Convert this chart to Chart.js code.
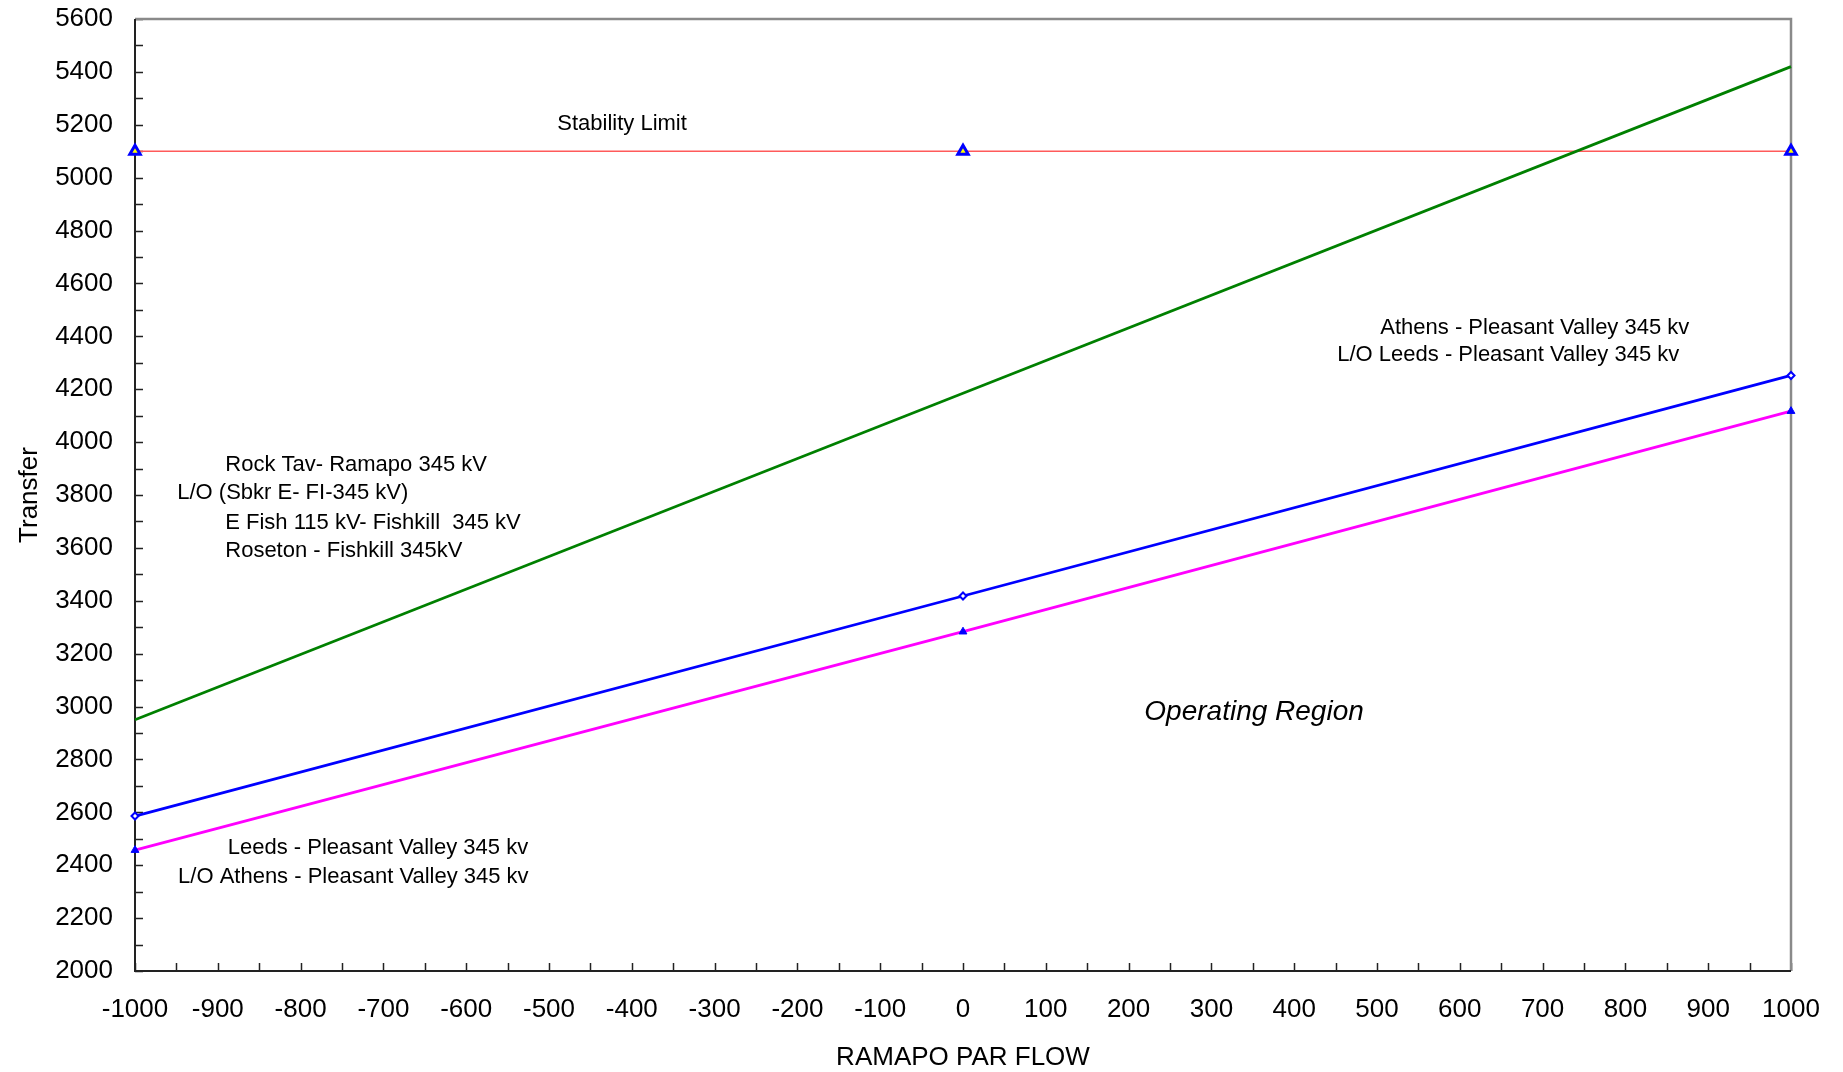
<!DOCTYPE html>
<html><head><meta charset="utf-8">
<script src="https://cdn.jsdelivr.net/npm/chart.js@4/dist/chart.umd.min.js"></script>
<style>html,body{margin:0;padding:0;background:#fff;}</style>
</head><body>
<canvas id="c" width="1843" height="1072"></canvas>
<script>
// ---- data ----
const flow = [-1000, 0, 1000];
const stabilityLimit = [5100, 5100, 5100];
const rockTavLimit = [2950, 4185, 5420];
const athensLimit = [2586, 3418, 4252];
const leedsLimit = [2457, 3283, 4117];
const xTickValues = [-1000,-900,-800,-700,-600,-500,-400,-300,-200,-100,0,100,200,300,400,500,600,700,800,900,1000];
const yTickValues = [2000,2200,2400,2600,2800,3000,3200,3400,3600,3800,4000,4200,4400,4600,4800,5000,5200,5400,5600];
const xTitle = 'RAMAPO PAR FLOW';
const yTitle = 'Transfer';
const noteTexts = [
  'Stability Limit',
  'Rock Tav- Ramapo 345 kV',
  'L/O (Sbkr E- FI-345 kV)',
  'E Fish 115 kV- Fishkill  345 kV',
  'Roseton - Fishkill 345kV',
  'Athens - Pleasant Valley 345 kv',
  'L/O Leeds - Pleasant Valley 345 kv',
  'Leeds - Pleasant Valley 345 kv',
  'L/O Athens - Pleasant Valley 345 kv',
  'Operating Region'
];
// anchor of each note (left edge, vertical middle) in axis units
const noteAnchors = [
  [-490, 5205], [-891, 3913], [-949, 3807], [-891, 3696], [-891, 3590],
  [504, 4431], [452, 4329], [-888, 2464], [-948, 2357], [219, 2978]
];

const pts = ys => flow.map((x, i) => ({x: x, y: ys[i]}));
const FONT = '"Liberation Sans", Arial, sans-serif';

const framePlugin = {
  id: 'frame',
  beforeDatasetsDraw(chart) {
    const {ctx, chartArea: a, scales: {x, y}} = chart;
    ctx.save();
    ctx.strokeStyle = '#222';
    ctx.lineWidth = 1.5;
    const tl = 8;
    const xt = [];
    for (let i = 0; i < xTickValues.length; i++) {
      xt.push(xTickValues[i]);
      if (i < xTickValues.length - 1) xt.push((xTickValues[i] + xTickValues[i+1]) / 2);
    }
    ctx.beginPath();
    xt.forEach(v => { const px = Math.round(x.getPixelForValue(v)) + 0.5; ctx.moveTo(px, a.bottom); ctx.lineTo(px, a.bottom - tl); });
    const yt = [];
    for (let i = 0; i < yTickValues.length; i++) {
      yt.push(yTickValues[i]);
      if (i < yTickValues.length - 1) yt.push((yTickValues[i] + yTickValues[i+1]) / 2);
    }
    yt.forEach(v => { const py = Math.round(y.getPixelForValue(v)) + 0.5; ctx.moveTo(a.left, py); ctx.lineTo(a.left + tl, py); });
    ctx.stroke();
    ctx.strokeStyle = '#8a8a8a';
    ctx.lineWidth = 2.5;
    ctx.beginPath();
    ctx.moveTo(a.left, a.top); ctx.lineTo(a.right, a.top); ctx.lineTo(a.right, a.bottom);
    ctx.stroke();
    ctx.strokeStyle = '#222';
    ctx.lineWidth = 2;
    ctx.beginPath();
    ctx.moveTo(a.left, a.top); ctx.lineTo(a.left, a.bottom); ctx.lineTo(a.right, a.bottom);
    ctx.stroke();
    ctx.restore();
  },
  afterDatasetsDraw(chart) {
    const {ctx, scales: {x, y}} = chart;
    ctx.save();
    ctx.fillStyle = '#000';
    ctx.textAlign = 'left';
    ctx.textBaseline = 'middle';
    noteTexts.forEach((t, i) => {
      ctx.font = (t === 'Operating Region') ? 'italic 28px ' + FONT : '22px ' + FONT;
      ctx.fillText(t, x.getPixelForValue(noteAnchors[i][0]), y.getPixelForValue(noteAnchors[i][1]));
    });
    ctx.restore();
  }
};

new Chart(document.getElementById('c'), {
  type: 'line',
  data: {
    datasets: [
      {label: 'Stability Limit', data: pts(stabilityLimit), borderColor: '#ff5a5a', borderWidth: 1.5,
       pointStyle: 'triangle', pointRadius: 6, pointBackgroundColor: '#ffff00', pointBorderColor: '#0000ff', pointBorderWidth: 3, clip: false, order: 4},
      {label: 'Rock Tav', data: pts(rockTavLimit), borderColor: '#008000', borderWidth: 2.8, pointRadius: 0, clip: false, order: 3},
      {label: 'Athens', data: pts(athensLimit), borderColor: '#0000ff', borderWidth: 2.8,
       pointStyle: 'rectRot', pointRadius: 3.5, pointBackgroundColor: '#ffffff', pointBorderColor: '#0000ff', pointBorderWidth: 2, clip: false, order: 2},
      {label: 'Leeds', data: pts(leedsLimit), borderColor: '#ff00ff', borderWidth: 2.8,
       pointStyle: 'triangle', pointRadius: 4.5, pointBackgroundColor: '#0000ff', pointBorderColor: '#0000ff', pointBorderWidth: 1, clip: false, order: 1}
    ]
  },
  options: {
    responsive: false,
    animation: false,
    devicePixelRatio: 1,
    layout: {padding: {left: 0, right: 52, top: 19, bottom: 0}},
    plugins: {legend: {display: false}, tooltip: {enabled: false}},
    elements: {line: {tension: 0}},
    scales: {
      x: {
        type: 'linear', min: -1000, max: 1000,
        afterBuildTicks: s => { s.ticks = xTickValues.map(v => ({value: v})); },
        afterFit: s => { s.height = 101; s.paddingLeft = 0; s.paddingRight = 0; },
        grid: {display: false, drawTicks: false},
        border: {display: false},
        ticks: {font: {family: FONT, size: 26}, color: '#000', padding: 23.5, maxRotation: 0, autoSkip: false,
                callback: v => String(v)},
        title: {display: true, text: xTitle, font: {family: FONT, size: 26}, color: '#000', padding: {top: 0, bottom: -1.5}}
      },
      y: {
        type: 'linear', min: 2000, max: 5600,
        afterBuildTicks: s => { s.ticks = yTickValues.map(v => ({value: v})); },
        afterFit: s => { s.width = 135; s.paddingTop = 0; s.paddingBottom = 0; },
        grid: {display: false, drawTicks: false},
        border: {display: false},
        ticks: {font: {family: FONT, size: 26}, color: '#000', padding: 22, autoSkip: false,
                callback: v => String(v)},
        title: {display: true, text: yTitle, font: {family: FONT, size: 26}, color: '#000', padding: {top: 14, bottom: 0}}
      }
    }
  },
  plugins: [framePlugin]
});
</script>
</body></html>
